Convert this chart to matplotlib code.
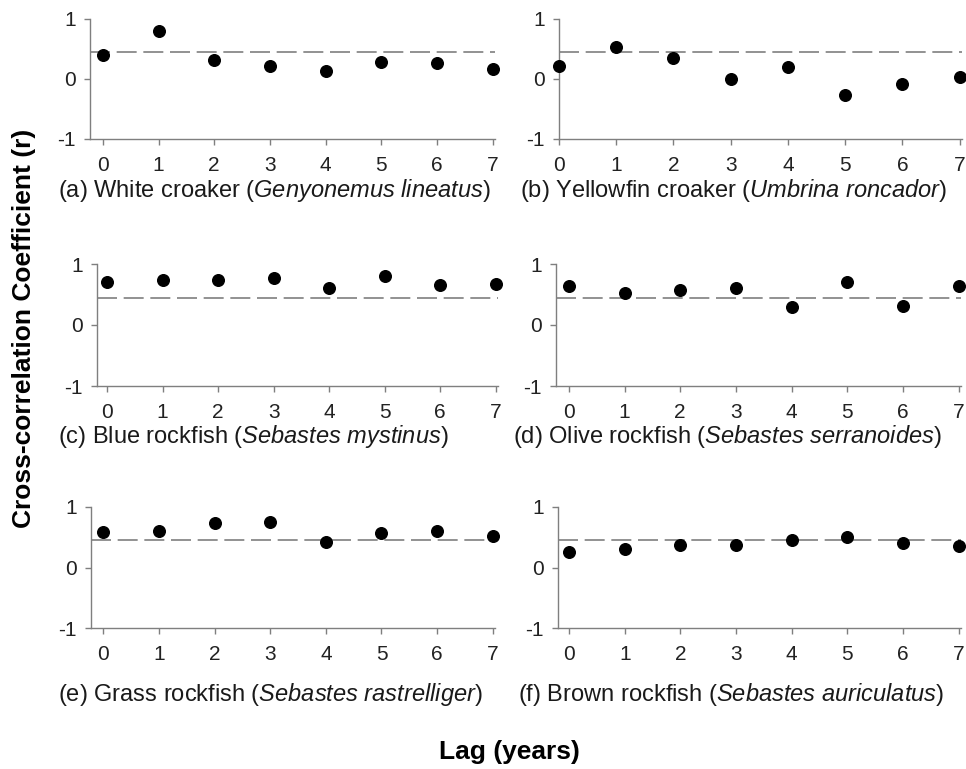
import numpy as np
import matplotlib
matplotlib.use("Agg")
import matplotlib.pyplot as plt

plt.rcParams['font.family'] = ['Liberation Sans', 'DejaVu Sans']
plt.rcParams['mathtext.fontset'] = 'custom'
plt.rcParams['mathtext.rm'] = 'Liberation Sans'
plt.rcParams['mathtext.it'] = 'Liberation Sans:italic'

lags = [0, 1, 2, 3, 4, 5, 6, 7]
threshold = 0.45

white_croaker = [0.40, 0.80, 0.32, 0.22, 0.14, 0.29, 0.26, 0.16]
yellowfin_croaker = [0.22, 0.53, 0.35, 0.00, 0.20, -0.27, -0.09, 0.03]
blue_rockfish = [0.70, 0.74, 0.73, 0.77, 0.60, 0.81, 0.65, 0.68]
olive_rockfish = [0.64, 0.52, 0.57, 0.61, 0.30, 0.71, 0.31, 0.64]
grass_rockfish = [0.59, 0.60, 0.73, 0.76, 0.42, 0.57, 0.60, 0.52]
brown_rockfish = [0.25, 0.30, 0.37, 0.37, 0.46, 0.51, 0.40, 0.35]

captions = [
    r"(a) White croaker ($\mathit{Genyonemus\ lineatus}$)",
    r"(b) Yellowfin croaker ($\mathit{Umbrina\ roncador}$)",
    r"(c) Blue rockfish ($\mathit{Sebastes\ mystinus}$)",
    r"(d) Olive rockfish ($\mathit{Sebastes\ serranoides}$)",
    r"(e) Grass rockfish ($\mathit{Sebastes\ rastrelliger}$)",
    r"(f) Brown rockfish ($\mathit{Sebastes\ auriculatus}$)",
]
series = [white_croaker, yellowfin_croaker, blue_rockfish,
          olive_rockfish, grass_rockfish, brown_rockfish]

W, H = 966, 769
# pixel boxes: left, right, top, bottom, xlim left, caption x, caption y
boxes = [
    (90, 495, 19, 139, -0.23, 58, 190),
    (559, 962, 19, 139, 0.0, 520, 190),
    (97, 498, 264, 386, -0.18, 58, 437),
    (556, 961, 264, 386, -0.23, 513, 437),
    (91, 495, 507, 628, -0.22, 58, 695),
    (558, 961, 507, 628, -0.2, 518, 695),
]

fig = plt.figure(figsize=(W / 100, H / 100), dpi=100)
gray = '#7f7f7f'

for vals, cap, (l, r, t, b, x0, cx, cy) in zip(series, captions, boxes):
    ax = fig.add_axes([l / W, 1 - b / H, (r - l) / W, (b - t) / H])
    ax.axhline(threshold, color=gray, lw=1.2, dashes=(12, 4))
    ax.scatter(lags, vals, s=70, color='black', zorder=3, clip_on=False)
    ax.set_ylim(-1, 1)
    ax.set_xlim(x0, 7.04)
    ax.set_xticks(lags)
    ax.set_yticks([-1, 0, 1])
    ax.set_yticklabels(['-1', '0', '1'])
    for s in ['top', 'right']:
        ax.spines[s].set_visible(False)
    for s in ['left', 'bottom']:
        ax.spines[s].set_color(gray)
        ax.spines[s].set_linewidth(1.0)
    ax.tick_params(axis='both', colors=gray, labelcolor='#222222',
                   labelsize=15, length=4, width=1)
    ax.tick_params(axis='x', pad=8)
    ax.tick_params(axis='y', pad=6)
    fig.text(cx / W, 1 - cy / H, cap, fontsize=17, color='#1a1a1a',
             ha='left', va='center')

fig.text(24 / W, 1 - 328 / H, 'Cross-correlation Coefficient (r)',
         rotation=90, fontsize=19, fontweight='bold', ha='center', va='center')
fig.text(509 / W, 1 - 752 / H, 'Lag (years)', fontsize=19,
         fontweight='bold', ha='center', va='center')

fig.savefig('out.png', dpi=100, facecolor='white')
